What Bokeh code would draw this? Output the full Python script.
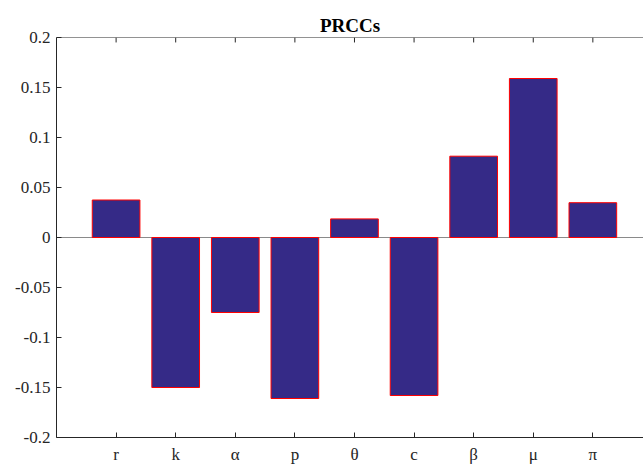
from bokeh.plotting import figure
from bokeh.models import Range1d, FixedTicker, CustomJSTickFormatter, Span
from bokeh.embed import file_html
from bokeh.resources import INLINE

# Partial rank correlation coefficients for each model parameter
PARAMS = ["r", "k", "α", "p", "θ", "c", "β", "μ", "π"]
PRCC = [0.0375, -0.150, -0.075, -0.161, 0.0186, -0.158, 0.0813, 0.159, 0.0348]

Y_TICKS = [-0.2, -0.15, -0.1, -0.05, 0, 0.05, 0.1, 0.15, 0.2]
Y_TICK_LABELS = ["-0.2", "-0.15", "-0.1", "-0.05", "0", "0.05", "0.1", "0.15", "0.2"]

X_POS = list(range(1, len(PARAMS) + 1))
Y_MIN, Y_MAX = Y_TICKS[0], Y_TICKS[-1]

FONT = "Liberation Serif"
AXIS_COLOR = "#262626"

W, H = 643, 466
BORDER_TOP, BORDER_BOTTOM = 37, 26
TICK_PX = 5

p = figure(width=W, height=H, output_backend="svg", toolbar_location=None,
           x_range=Range1d(0, 9.85), y_range=Range1d(Y_MIN, Y_MAX),
           min_border_left=56, min_border_right=0, min_border_top=BORDER_TOP,
           min_border_bottom=BORDER_BOTTOM)
p.outline_line_color = None
p.grid.visible = False
p.background_fill_color = "white"
p.border_fill_color = "white"

p.title.text = "PRCCs"
p.title.align = "center"
p.title.text_font = FONT
p.title.text_font_style = "bold"
p.title.text_font_size = "19px"
p.title.text_color = "black"
p.title.standoff = 4

x_fmt = CustomJSTickFormatter(args=dict(labels=PARAMS), code="""
    const i = Math.round(tick) - 1;
    return (i >= 0 && i < labels.length) ? labels[i] : '';
""")
y_fmt = CustomJSTickFormatter(args=dict(vals=Y_TICKS, labs=Y_TICK_LABELS), code="""
    for (let i = 0; i < vals.length; i++) {
        if (Math.abs(vals[i] - tick) < 1e-9) return labs[i];
    }
    return '';
""")


def style_axis(ax):
    ax.axis_line_color = AXIS_COLOR
    ax.axis_line_width = 1
    ax.major_tick_line_color = AXIS_COLOR
    ax.major_tick_in = TICK_PX
    ax.major_tick_out = 0
    ax.minor_tick_line_color = None
    ax.major_label_text_font = FONT
    ax.major_label_text_font_size = "17px"
    ax.major_label_text_color = AXIS_COLOR


xa = p.xaxis[0]
xa.ticker = FixedTicker(ticks=X_POS)
xa.formatter = x_fmt
xa.major_label_standoff = 7
style_axis(xa)

ya = p.yaxis[0]
ya.ticker = FixedTicker(ticks=Y_TICKS)
ya.formatter = y_fmt
ya.major_label_standoff = 6
style_axis(ya)

# zero baseline behind the bars
p.add_layout(Span(location=0, dimension="width", line_color="#8a8a8a",
                  line_width=1, level="underlay"))

p.vbar(x=X_POS, top=PRCC, bottom=0, width=0.8,
       fill_color="#352a87", line_color="#ff0000", line_width=1)

# top edge of the axes box with short inward ticks
p.add_layout(Span(location=Y_MAX, dimension="width", line_color=AXIS_COLOR,
                  line_width=1))
tick_len = TICK_PX * (Y_MAX - Y_MIN) / (H - BORDER_TOP - BORDER_BOTTOM)
p.segment(x0=X_POS, x1=X_POS, y0=[Y_MAX] * len(X_POS),
          y1=[Y_MAX - tick_len] * len(X_POS),
          line_color=AXIS_COLOR, line_width=1)

open("out.html", "w").write(file_html(p, INLINE))
